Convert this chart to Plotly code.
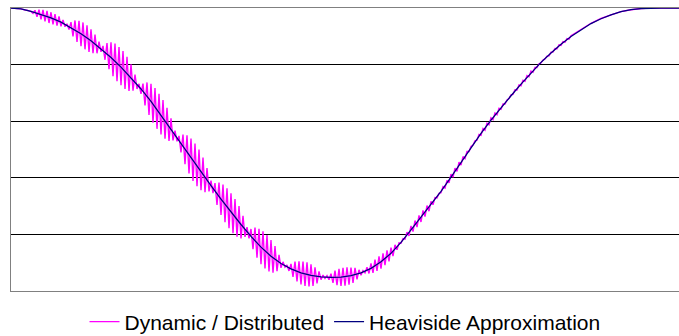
import plotly.graph_objects as go

# Time base (sample index units) and values
heav_t = [0, 10, 20, 30, 40, 50, 60, 70, 80, 90, 100, 110, 120, 130, 140, 150, 160, 170, 180, 190,
          200, 210, 220, 230, 240, 250, 260, 270, 280, 290, 300, 310, 320, 330, 340, 350, 360, 370,
          380, 390, 400, 410, 420, 430, 440, 450, 460, 470, 480, 490, 500, 510, 520, 530, 540, 550,
          560, 570, 580, 590, 600, 610, 620, 630, 640, 650, 660, 668]
heav_v = [1.000, 0.997, 0.988, 0.977, 0.965, 0.950, 0.931, 0.909, 0.884, 0.856, 0.825, 0.791, 0.754,
          0.714, 0.670, 0.620, 0.570, 0.520, 0.470, 0.421, 0.372, 0.325, 0.279, 0.235, 0.193, 0.155,
          0.123, 0.097, 0.078, 0.064, 0.055, 0.050, 0.048, 0.049, 0.054, 0.064, 0.080, 0.103, 0.133,
          0.172, 0.216, 0.260, 0.305, 0.352, 0.402, 0.455, 0.508, 0.557, 0.604, 0.648, 0.690, 0.731,
          0.771, 0.808, 0.841, 0.872, 0.899, 0.923, 0.945, 0.962, 0.976, 0.987, 0.994, 0.998, 1.000,
          1.000, 1.000, 1.000]

dyn_t = list(range(0, 561, 2)) + [570, 580, 590, 600, 610, 620, 630, 640, 668]
dyn_v = [
    1.000, 0.999, 0.999, 0.998, 0.998, 0.997, 0.995, 0.993, 0.992, 0.990,
    0.988, 0.981, 0.992, 0.969, 0.994, 0.960, 0.993, 0.953, 0.990, 0.947,
    0.985, 0.942, 0.978, 0.938, 0.970, 0.935, 0.958, 0.934, 0.944, 0.924,
    0.950, 0.900, 0.956, 0.880, 0.955, 0.865, 0.949, 0.854, 0.939, 0.845,
    0.925, 0.840, 0.906, 0.840, 0.881, 0.845, 0.866, 0.817, 0.876, 0.784,
    0.879, 0.759, 0.874, 0.741, 0.862, 0.727, 0.848, 0.714, 0.828, 0.707,
    0.801, 0.708, 0.765, 0.714, 0.732, 0.697, 0.733, 0.656, 0.737, 0.622,
    0.732, 0.595, 0.717, 0.573, 0.697, 0.553, 0.675, 0.538, 0.647, 0.530,
    0.610, 0.532, 0.567, 0.529, 0.548, 0.490, 0.553, 0.448, 0.550, 0.415,
    0.539, 0.389, 0.521, 0.370, 0.500, 0.356, 0.472, 0.349, 0.434, 0.352,
    0.390, 0.346, 0.381, 0.304, 0.383, 0.269, 0.376, 0.243, 0.363, 0.222,
    0.345, 0.204, 0.325, 0.192, 0.300, 0.186, 0.266, 0.191, 0.226, 0.186,
    0.219, 0.148, 0.224, 0.118, 0.220, 0.095, 0.211, 0.080, 0.198, 0.069,
    0.180, 0.065, 0.159, 0.070, 0.128, 0.082, 0.103, 0.084, 0.092, 0.071,
    0.096, 0.050, 0.104, 0.034, 0.105, 0.023, 0.104, 0.018, 0.101, 0.016,
    0.094, 0.018, 0.084, 0.027, 0.069, 0.040, 0.056, 0.044, 0.054, 0.040,
    0.061, 0.029, 0.072, 0.021, 0.078, 0.018, 0.082, 0.019, 0.084, 0.022,
    0.083, 0.029, 0.082, 0.041, 0.075, 0.056, 0.072, 0.064, 0.084, 0.062,
    0.098, 0.064, 0.111, 0.071, 0.122, 0.079, 0.133, 0.091, 0.144, 0.105,
    0.153, 0.123, 0.163, 0.146, 0.170, 0.169, 0.185, 0.183, 0.208, 0.195,
    0.230, 0.210, 0.249, 0.226, 0.267, 0.244, 0.285, 0.263, 0.302, 0.282,
    0.317, 0.305, 0.330, 0.329, 0.345, 0.347, 0.369, 0.364, 0.391, 0.382,
    0.413, 0.402, 0.434, 0.423, 0.455, 0.445, 0.475, 0.468, 0.493, 0.493,
    0.511, 0.516, 0.531, 0.533, 0.553, 0.550, 0.574, 0.568, 0.593, 0.587,
    0.612, 0.605, 0.629, 0.623, 0.646, 0.642, 0.661, 0.661, 0.675, 0.680,
    0.693, 0.695, 0.711, 0.710, 0.728, 0.725, 0.745, 0.741, 0.761, 0.757,
    0.777, 0.773, 0.790, 0.790, 0.803, 0.806, 0.816, 0.820, 0.830, 0.831,
    0.844, 0.844, 0.857, 0.856, 0.870, 0.868, 0.881, 0.879, 0.892, 0.890,
    0.902, 0.924, 0.946, 0.963, 0.976, 0.987, 0.994, 0.998, 1.000, 1.000,
]
assert len(dyn_t) == len(dyn_v)

series_names = ["Dynamic / Distributed", "Heaviside Approximation"]

fig = go.Figure()
fig.add_trace(go.Scatter(x=dyn_t, y=dyn_v, mode="lines", name=series_names[0],
                         line=dict(color="#FF00FF", width=1.4, simplify=False)))
fig.add_trace(go.Scatter(x=heav_t, y=heav_v, mode="lines", name=series_names[1],
                         line=dict(color="#000080", width=1.3)))

fig.update_layout(
    width=679, height=336,
    margin=dict(l=11, r=0, t=8, b=45, autoexpand=False),
    paper_bgcolor="white", plot_bgcolor="white",
    font=dict(family="Liberation Sans, Arial, sans-serif", size=21, color="black"),
    showlegend=True,
    legend=dict(orientation="h", x=0.5, xanchor="center", y=-0.1095, yanchor="middle",
                font=dict(size=21), bgcolor="rgba(0,0,0,0)", itemwidth=30),
)
fig.update_xaxes(range=[0, 668], showgrid=False, zeroline=False, showticklabels=False,
                 ticks="", showline=True, linecolor="#808080", linewidth=1, mirror=True)
fig.update_yaxes(range=[0, 1], dtick=0.2, showgrid=True, gridcolor="black", gridwidth=1,
                 zeroline=False, showticklabels=False, ticks="", showline=True,
                 linecolor="#808080", linewidth=1)

fig.write_html("out.html")
